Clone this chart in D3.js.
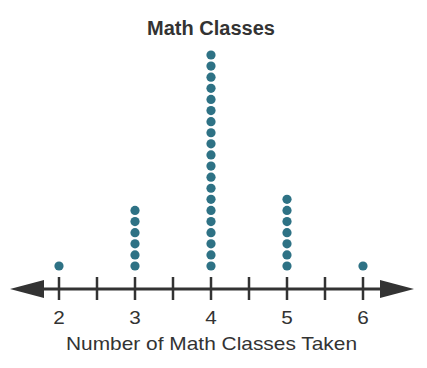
<!DOCTYPE html>
<html><head><meta charset="utf-8">
<script src="https://cdn.jsdelivr.net/npm/d3@7"></script>
<style>body{margin:0;background:#fff}svg{display:block}</style>
</head><body>
<script>
const categories = [2, 3, 4, 5, 6];
const counts = [1, 6, 20, 7, 1];
const tickValues = [2, 2.5, 3, 3.5, 4, 4.5, 5, 5.5, 6];
const labelValues = [2, 3, 4, 5, 6];
const title = "Math Classes";
const xTitle = "Number of Math Classes Taken";

const W = 427, H = 368;
const svg = d3.select("body").append("svg").attr("width", W).attr("height", H);
const x = d3.scaleLinear().domain([2, 6]).range([59, 363]);
const y = d3.scaleLinear().domain([1, 20]).range([266, 55]);
const axisY = 289, ink = "#333";
const font = "Liberation Sans, Arial, sans-serif";

svg.append("text").attr("x", 211).attr("y", 35).attr("text-anchor", "middle")
  .attr("font-family", font).attr("font-weight", "bold")
  .attr("font-size", 20).attr("fill", ink).text(title);

// axis line
svg.append("line").attr("x1", 30).attr("x2", 394).attr("y1", axisY).attr("y2", axisY)
  .attr("stroke", ink).attr("stroke-width", 3);
svg.append("path").attr("d", `M10,${axisY} L44,${axisY-9} L44,${axisY+9} Z`).attr("fill", ink);
svg.append("path").attr("d", `M414,${axisY} L380,${axisY-9} L380,${axisY+9} Z`).attr("fill", ink);

svg.selectAll(".tick").data(tickValues).enter().append("line")
  .attr("x1", d => x(d)).attr("x2", d => x(d)).attr("y1", axisY - 12).attr("y2", axisY + 11)
  .attr("stroke", ink).attr("stroke-width", 2.5);

svg.selectAll(".lbl").data(labelValues).enter().append("text")
  .attr("transform", d => `translate(${x(d)},324) scale(1.15,1)`).attr("text-anchor", "middle")
  .attr("font-family", font).attr("font-size", 18)
  .attr("fill", ink).text(d => d);

svg.append("text").attr("x", 66).attr("y", 350)
  .attr("font-family", font).attr("font-size", 18.5)
  .attr("textLength", 291).attr("lengthAdjust", "spacingAndGlyphs")
  .attr("fill", ink).text(xTitle);

const dots = [];
categories.forEach((c, i) => { for (let k = 1; k <= counts[i]; k++) dots.push({c, k}); });
svg.selectAll(".dot").data(dots).enter().append("circle")
  .attr("cx", d => x(d.c)).attr("cy", d => y(d.k)).attr("r", 4.6).attr("fill", "#2e7285");
</script>
</body></html>
